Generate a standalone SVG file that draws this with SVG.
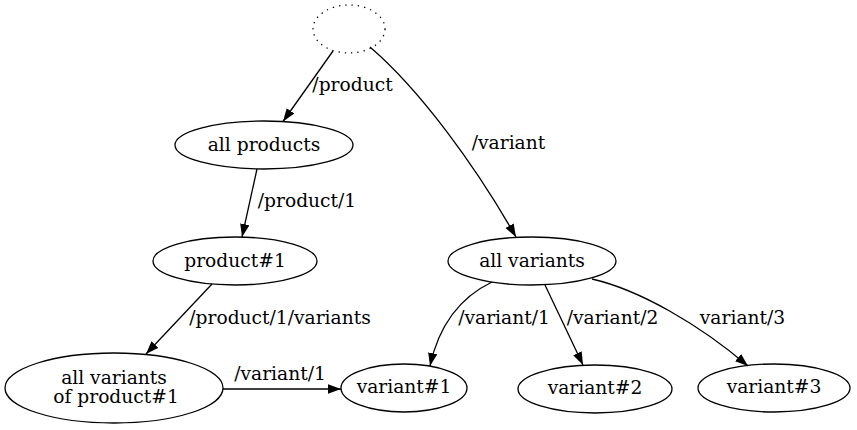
<svg xmlns="http://www.w3.org/2000/svg" width="857" height="430" viewBox="0 0 857 430">
<style>
text{font-family:"DejaVu Serif","Liberation Serif",serif;font-size:18.67px;fill:#000;text-anchor:middle}
ellipse{fill:none;stroke:#000;stroke-width:1.3}
.e{fill:none;stroke:#000;stroke-width:1.3;marker-end:url(#ah)}
</style>
<defs>
<marker id="ah" markerUnits="userSpaceOnUse" markerWidth="14" markerHeight="10" refX="13" refY="4.7" orient="auto">
<path d="M0,0 L13,4.7 L0,9.4 z" fill="#000"/>
</marker>
</defs>
<rect width="857" height="430" fill="#fff"/>
<g id="connectors">
<path class="e" d="M333,51 L283,121.5"/>
<path class="e" d="M370,47 C420,90 475,165 516,237"/>
<path class="e" d="M257,169 L242,237"/>
<path class="e" d="M212,284 L146,354"/>
<path class="e" d="M223,389 L341,389"/>
<path class="e" d="M492,282 C465,295 440,320 430,366"/>
<path class="e" d="M545,285 L583,365"/>
<path class="e" d="M592,279 C640,290 700,325 748,366"/>
<text x="352.5" y="91">/product</text>
<text x="508.5" y="149">/variant</text>
<text x="307" y="207">/product/1</text>
<text x="280" y="324">/product/1/variants</text>
<text x="280" y="380">/variant/1</text>
<text x="504" y="324">/variant/1</text>
<text x="612.5" y="324">/variant/2</text>
<text x="742.5" y="324">variant/3</text>
</g>
<g id="root"><ellipse cx="349" cy="29" rx="36" ry="24" stroke-dasharray="1.3,5"/></g>
<g id="all_products"><ellipse cx="264" cy="145" rx="89" ry="24"/><text x="264" y="151">all products</text></g>
<g id="product1"><ellipse cx="235" cy="261" rx="82" ry="24"/><text x="235" y="267">product#1</text></g>
<g id="all_variants"><ellipse cx="532" cy="261" rx="84" ry="24"/><text x="532" y="267">all variants</text></g>
<g id="variants_of_product1"><ellipse cx="114" cy="388" rx="109" ry="35"/><text x="114" y="384">all variants</text><text x="116" y="403">of product#1</text></g>
<g id="variant1"><ellipse cx="404" cy="388" rx="63" ry="24"/><text x="404" y="393">variant#1</text></g>
<g id="variant2"><ellipse cx="595" cy="389" rx="77" ry="24"/><text x="595" y="394">variant#2</text></g>
<g id="variant3"><ellipse cx="774" cy="388" rx="76" ry="24"/><text x="774" y="393">variant#3</text></g>
</svg>
